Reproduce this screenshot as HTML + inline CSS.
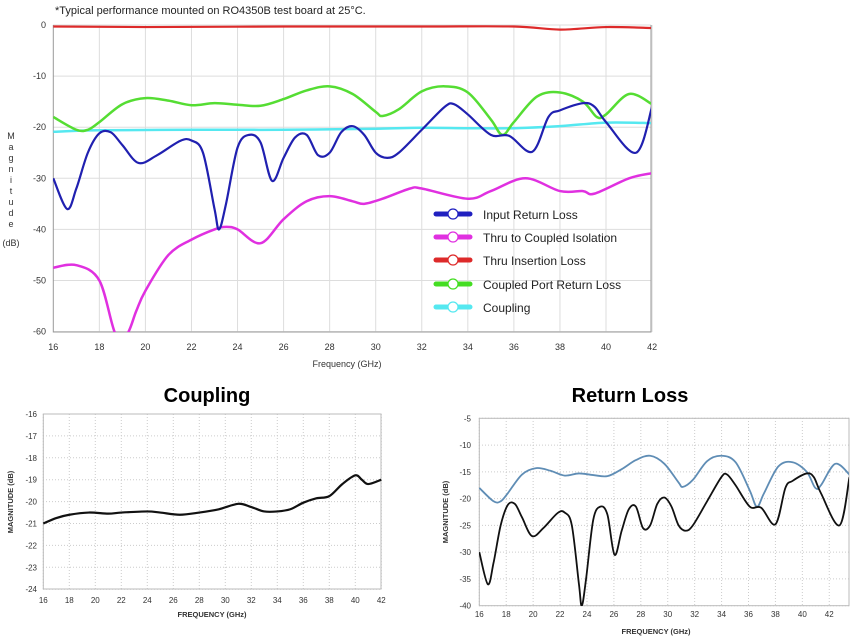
<!DOCTYPE html><html><head><style>body{margin:0;background:#fff}svg{display:block;font-family:"Liberation Sans",Arial,sans-serif}</style></head><body>
<svg id="s" width="853" height="639" xmlns="http://www.w3.org/2000/svg">
<text x="55" y="14" font-size="11" fill="#222">*Typical performance mounted on RO4350B test board at 25°C.</text>
<g id="g"></g>
<text x="207" y="402" font-size="20" font-weight="bold" text-anchor="middle">Coupling</text>
<text x="630" y="402" font-size="20" font-weight="bold" text-anchor="middle">Return Loss</text>
<g font-size="9" fill="#333" text-anchor="middle"><text x="11" y="139">M</text><text x="11" y="150">a</text><text x="11" y="161">g</text><text x="11" y="172">n</text><text x="11" y="183">i</text><text x="11" y="194">t</text><text x="11" y="205">u</text><text x="11" y="216">d</text><text x="11" y="227">e</text><text x="11" y="246">(dB)</text></g>
<text x="347" y="367" font-size="9" fill="#333" text-anchor="middle">Frequency (GHz)</text>
<text x="212" y="617" font-size="7.5" font-weight="bold" fill="#333" text-anchor="middle">FREQUENCY (GHz)</text>
<text transform="translate(13,502) rotate(-90)" font-size="7.5" font-weight="bold" fill="#333" text-anchor="middle">MAGNITUDE (dB)</text>
<text x="656" y="634" font-size="7.5" font-weight="bold" fill="#333" text-anchor="middle">FREQUENCY (GHz)</text>
<text transform="translate(448,512) rotate(-90)" font-size="7.5" font-weight="bold" fill="#333" text-anchor="middle">MAGNITUDE (dB)</text>
<g font-size="12" fill="#222">
<text x="483" y="219">Input Return Loss</text><text x="483" y="242">Thru to Coupled Isolation</text><text x="483" y="265">Thru Insertion Loss</text><text x="483" y="289">Coupled Port Return Loss</text><text x="483" y="312">Coupling</text></g>
</svg>
<script>
var g=document.getElementById('g'),NS="http://www.w3.org/2000/svg";
function el(t,a,p){var e=document.createElementNS(NS,t);for(var k in a)e.setAttribute(k,a[k]);(p||g).appendChild(e);return e;}
function txt(x,y,s,o){var e=el('text',Object.assign({x:x,y:y,'font-size':9,fill:'#333'},o||{}));e.textContent=s;}
function path(pts,X,Y,attr,clip){var P=pts.map(function(p){return [X(p[0]),Y(p[1])]});var d="M"+P[0][0]+","+P[0][1];
for(var i=0;i<P.length-1;i++){var p0=P[i-1]||P[i],p1=P[i],p2=P[i+1],p3=P[i+2]||p2;
d+="C"+(p1[0]+(p2[0]-p0[0])/6)+","+(p1[1]+(p2[1]-p0[1])/6)+" "+(p2[0]-(p3[0]-p1[0])/6)+","+(p2[1]-(p3[1]-p1[1])/6)+" "+p2[0]+","+p2[1];}
var a=Object.assign({d:d,fill:'none','stroke-linejoin':'round'},attr);if(clip)a['clip-path']='url(#'+clip+')';el('path',a);}
var defs=el('defs',{});
// top chart
var X1=function(f){return 53.3+(f-16)*23.03},Y1=function(v){return 25-v*5.11};
var c=el('clipPath',{id:'c1'},defs);el('rect',{x:53,y:20,width:598,height:312},c);
for(var f=16;f<=42;f+=2){if(f>16)el('line',{x1:X1(f),x2:X1(f),y1:25,y2:332,stroke:'#ddd'});txt(X1(f),350,f,{'text-anchor':'middle'});}
for(var v=0;v>=-60;v-=10){el('line',{x1:53,x2:651,y1:Y1(v),y2:Y1(v),stroke:'#ddd'});txt(46,Y1(v)+3,v,{'text-anchor':'end'});}
el('path',{d:"M53.3,25V332H651V25",fill:'none',stroke:'#999'});
var blue=[[16,-30],[16.6,-36],[17,-32],[17.5,-25],[18,-21.2],[18.5,-21],[19,-23.5],[19.7,-27],[20.5,-25.5],[21.5,-22.7],[22,-22.6],[22.5,-25],[23,-36],[23.2,-40],[23.5,-35],[24,-24],[24.5,-21.5],[25,-23],[25.5,-30.5],[26,-26],[26.5,-22],[27,-21.5],[27.5,-25.5],[28,-25],[28.5,-21],[29,-19.8],[29.5,-21.5],[30,-25],[30.5,-26],[31,-25],[32,-20.5],[33,-16],[33.4,-15.5],[34,-17.5],[35,-21.5],[35.8,-21.7],[36.8,-24.8],[37.5,-18],[38,-16.7],[39,-15.3],[39.5,-16],[40,-19],[41.3,-25],[42,-16]];
var green=[[16,-18],[17,-20.5],[17.5,-20.5],[18,-19],[19,-15.5],[20,-14.3],[21,-14.8],[22,-15.7],[23,-15.3],[24,-15.6],[25,-15.8],[26,-14.5],[27,-12.8],[28,-12],[29,-13.5],[30,-17],[30.3,-17.8],[31,-16.5],[32,-13],[33,-12],[34,-13.2],[35,-18.5],[35.5,-21.5],[36,-19],[37,-14],[38,-13.2],[39,-15],[39.6,-18],[40,-17.5],[41,-13.5],[42,-15.5]];
var mag=[[16,-47.5],[17,-47],[18,-50],[18.7,-60.5],[19.2,-60.5],[19.6,-56],[20,-52],[21,-45],[22,-42],[23,-40],[23.5,-39.5],[24,-40],[25,-42.7],[26,-38],[27,-34.5],[28,-33.5],[29,-34.5],[29.5,-35],[30.3,-34],[31.5,-32],[32,-32],[34,-34],[35,-32.5],[36.5,-30],[38,-32.5],[39,-32.5],[39.5,-33],[41,-30],[42,-29]];
var red=[[16,-0.3],[20,-0.4],[26,-0.3],[32,-0.3],[36,-0.3],[38,-0.9],[40,-0.4],[42,-0.6]];
var cyan=[[16,-20.9],[18,-20.6],[22,-20.5],[26,-20.5],[30,-20.3],[32,-20.1],[34,-20.2],[36,-20.2],[38,-19.8],[40,-19.1],[42,-19.2]];
path(mag,X1,Y1,{stroke:'#e030e0','stroke-width':2.5},'c1');
path(cyan,X1,Y1,{stroke:'#55e8f0','stroke-width':2.5},'c1');
path(green,X1,Y1,{stroke:'#55dd33','stroke-width':2.5},'c1');
path(blue,X1,Y1,{stroke:'#2020b0','stroke-width':2.2},'c1');
path(red,X1,Y1,{stroke:'#dd2a2a','stroke-width':2.2},'c1');
[['#2020c0',214],['#e030e0',237],['#dd2a2a',260],['#44dd22',284],['#55e8f0',307]].forEach(function(l){el('line',{x1:436,x2:470,y1:l[1],y2:l[1],stroke:l[0],'stroke-width':5,'stroke-linecap':'round'});el('circle',{cx:453,cy:l[1],r:5,fill:'#fff',stroke:l[0],'stroke-width':1.2});});
// coupling
var X2=function(f){return 43.3+(f-16)*13},Y2=function(v){return 414+(-16-v)*21.9};
for(var f=16;f<=42;f+=2){el('line',{x1:X2(f),x2:X2(f),y1:414,y2:589,stroke:'#ccc','stroke-dasharray':'1,2'});txt(X2(f),603,f,{'text-anchor':'middle','font-size':8});}
for(var v=-16;v>=-24;v--){el('line',{x1:43,x2:381,y1:Y2(v),y2:Y2(v),stroke:'#ccc','stroke-dasharray':'1,2'});txt(37,Y2(v)+3,v,{'text-anchor':'end','font-size':8});}
el('rect',{x:43.3,y:414,width:337.7,height:175,fill:'none',stroke:'#bbb'});
path([[16,-21],[17,-20.75],[18,-20.6],[19.5,-20.5],[21,-20.55],[22,-20.5],[24,-20.45],[25,-20.5],[26.5,-20.6],[28,-20.5],[29.5,-20.35],[31,-20.1],[32,-20.25],[33,-20.45],[34,-20.45],[35,-20.35],[36,-20.05],[37,-19.85],[38,-19.75],[39,-19.2],[40,-18.8],[40.5,-19],[41,-19.2],[42,-19]],X2,Y2,{stroke:'#111','stroke-width':2.2});
// return loss
var X3=function(f){return 479.3+(f-16)*13.46},Y3=function(v){return 418.3+(-5-v)*5.354};
var c3=el('clipPath',{id:'c3'},defs);el('rect',{x:479,y:418,width:370,height:188},c3);
for(var f=16;f<=42;f+=2){el('line',{x1:X3(f),x2:X3(f),y1:418,y2:606,stroke:'#ccc','stroke-dasharray':'1,2'});txt(X3(f),617,f,{'text-anchor':'middle','font-size':8});}
for(var v=-5;v>=-40;v-=5){el('line',{x1:479,x2:849,y1:Y3(v),y2:Y3(v),stroke:'#ccc','stroke-dasharray':'1,2'});txt(471,Y3(v)+3,v,{'text-anchor':'end','font-size':8});}
el('rect',{x:479.3,y:418.3,width:369.7,height:187.4,fill:'none',stroke:'#bbb'});
var sc=function(a){return a.map(function(p){return [16+(p[0]-16)*27.5/26,p[1]]})};
path(sc(green),X3,Y3,{stroke:'#5f8db5','stroke-width':1.8},'c3');
path(sc(blue),X3,Y3,{stroke:'#111','stroke-width':1.8},'c3');
</script></body></html>
